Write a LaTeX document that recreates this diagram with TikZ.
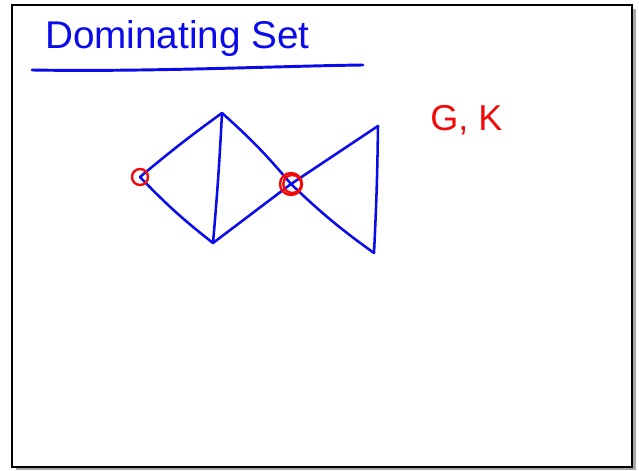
\documentclass[tikz,border=0pt]{standalone}
\usepackage{fontspec}
\setmainfont{Liberation Sans}
\usepackage{xcolor}
\usetikzlibrary{positioning}
\definecolor{penblue}{RGB}{10,10,235}
\definecolor{penred}{RGB}{240,10,10}

\begin{document}
\begin{tikzpicture}[x=0.75pt, y=-0.75pt,
    edge/.style={penblue, line width=1.9pt, line cap=round},
    ring/.style={penred, line width=1.8pt}]
    \useasboundingbox (0,0) rectangle (639,471);

    % Page frame with shadow
    \fill[gray!70] (16,9) rectangle (636,470);
    \draw[line width=1.5pt, fill=white] (12,5) rectangle (632,467);

    % Title and underline
    \node[penblue, anchor=base west, inner sep=0pt, font=\fontsize{29}{32}\selectfont] (title) at (45,48) {Dominating Set};
    \draw[penblue, line width=2.2pt, line cap=round] (32,70) .. controls (150,72) and (280,66) .. (363,65);

    % Vertices
    \coordinate (a) at (140,177);
    \coordinate (b) at (222,113);
    \coordinate (c) at (213,243);
    \coordinate (d) at (291,184);
    \coordinate (e) at (378,126);
    \coordinate (f) at (374,253);

    % Left triangle
    \draw[edge] (a) to[bend left=2] (b);
    \draw[edge] (a) to[bend right=4] (c);
    \draw[edge] (b) to[bend left=1] (c);
    % Middle
    \draw[edge] (b) to[bend left=4] (d);
    \draw[edge] (c) -- (d);
    % Right triangle
    \draw[edge] (d) -- (e);
    \draw[edge] (d) to[bend right=4] (f);
    \draw[edge] (e) to[bend left=1] (f);

    % Chosen vertices
    \draw[ring] (a) circle[radius=8];
    \draw[ring] (d) circle[radius=11];
    \draw[ring] ([xshift=1pt]d) circle[radius=9];

    % Label
    \node[penred, anchor=base west, inner sep=0pt, font=\fontsize{27}{30}\selectfont] (gk) at (430,130) {G, K};

\end{tikzpicture}
\end{document}
